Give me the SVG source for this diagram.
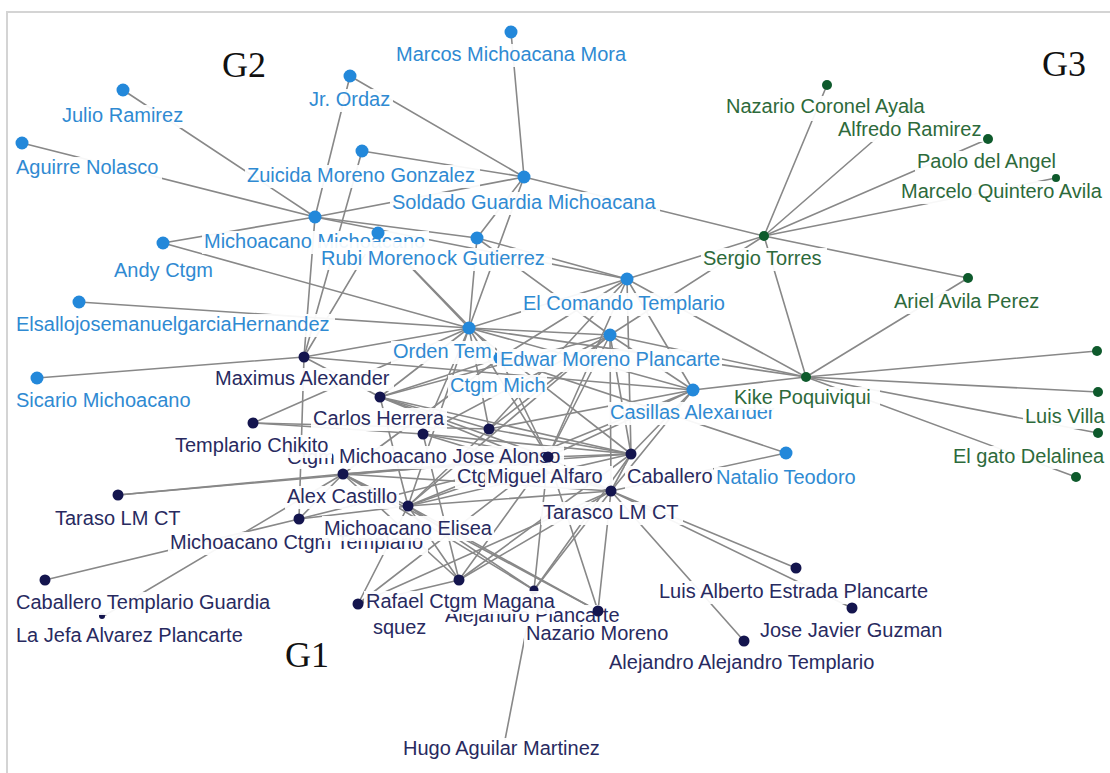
<svg xmlns="http://www.w3.org/2000/svg" width="1110" height="773" viewBox="0 0 1110 773">
<style>
.e{stroke:#888888;stroke-width:1.6;fill:none;stroke-linecap:round}
.lb{fill:#fff;opacity:0.93}
text{font-family:"Liberation Sans",Arial,sans-serif;font-size:20px}
.tb{fill:#2f8ad2}
.tn{fill:#282a5f}
.tg{fill:#2d6a3b}
.db{fill:#2388da}
.dn{fill:#14154e}
.dg{fill:#0e5a2c}
.gl{font-family:"Liberation Serif","Times New Roman",serif;font-size:36px;fill:#111}
</style>
<rect x="0" y="0" width="1110" height="773" fill="#fff"/>
<rect x="7" y="12" width="1115" height="775" fill="none" stroke="#d4d4d4" stroke-width="2"/>
<g id="connectors">
<line class="e" x1="123" y1="90" x2="315" y2="217"/>
<line class="e" x1="22" y1="143" x2="315" y2="217"/>
<line class="e" x1="163" y1="243" x2="315" y2="217"/>
<line class="e" x1="163" y1="243" x2="469" y2="328"/>
<line class="e" x1="362" y1="151" x2="524" y2="177"/>
<line class="e" x1="350" y1="76" x2="524" y2="177"/>
<line class="e" x1="350" y1="76" x2="315" y2="217"/>
<line class="e" x1="511" y1="32" x2="524" y2="177"/>
<line class="e" x1="315" y1="217" x2="524" y2="177"/>
<line class="e" x1="315" y1="217" x2="627" y2="279"/>
<line class="e" x1="315" y1="217" x2="477" y2="238"/>
<line class="e" x1="315" y1="217" x2="304" y2="357"/>
<line class="e" x1="378" y1="233" x2="304" y2="357"/>
<line class="e" x1="362" y1="151" x2="304" y2="357"/>
<line class="e" x1="79" y1="302" x2="469" y2="328"/>
<line class="e" x1="378" y1="233" x2="469" y2="328"/>
<line class="e" x1="378" y1="233" x2="500" y2="358"/>
<line class="e" x1="477" y1="238" x2="469" y2="328"/>
<line class="e" x1="524" y1="177" x2="469" y2="328"/>
<line class="e" x1="524" y1="177" x2="477" y2="238"/>
<line class="e" x1="477" y1="238" x2="627" y2="279"/>
<line class="e" x1="477" y1="238" x2="610" y2="335"/>
<line class="e" x1="469" y1="328" x2="627" y2="279"/>
<line class="e" x1="469" y1="328" x2="610" y2="335"/>
<line class="e" x1="469" y1="328" x2="693" y2="390"/>
<line class="e" x1="627" y1="279" x2="693" y2="390"/>
<line class="e" x1="610" y1="335" x2="693" y2="390"/>
<line class="e" x1="627" y1="279" x2="500" y2="358"/>
<line class="e" x1="524" y1="177" x2="764" y2="236"/>
<line class="e" x1="627" y1="279" x2="764" y2="236"/>
<line class="e" x1="610" y1="335" x2="764" y2="236"/>
<line class="e" x1="627" y1="279" x2="806" y2="377"/>
<line class="e" x1="764" y1="236" x2="806" y2="377"/>
<line class="e" x1="469" y1="328" x2="806" y2="377"/>
<line class="e" x1="693" y1="390" x2="806" y2="377"/>
<line class="e" x1="610" y1="335" x2="806" y2="377"/>
<line class="e" x1="764" y1="236" x2="827" y2="85"/>
<line class="e" x1="764" y1="236" x2="911" y2="108"/>
<line class="e" x1="764" y1="236" x2="988" y2="139"/>
<line class="e" x1="764" y1="236" x2="1056" y2="178"/>
<line class="e" x1="764" y1="236" x2="968" y2="278"/>
<line class="e" x1="806" y1="377" x2="968" y2="278"/>
<line class="e" x1="806" y1="377" x2="1097" y2="351"/>
<line class="e" x1="806" y1="377" x2="1098" y2="392"/>
<line class="e" x1="806" y1="377" x2="1098" y2="433"/>
<line class="e" x1="806" y1="377" x2="1076" y2="477"/>
<line class="e" x1="786" y1="453" x2="500" y2="358"/>
<line class="e" x1="786" y1="453" x2="611" y2="491"/>
<line class="e" x1="37" y1="378" x2="304" y2="357"/>
<line class="e" x1="253" y1="423" x2="469" y2="328"/>
<line class="e" x1="253" y1="423" x2="423" y2="434"/>
<line class="e" x1="253" y1="423" x2="489" y2="429"/>
<line class="e" x1="304" y1="357" x2="693" y2="390"/>
<line class="e" x1="304" y1="357" x2="380" y2="397"/>
<line class="e" x1="304" y1="357" x2="299" y2="519"/>
<line class="e" x1="304" y1="357" x2="469" y2="328"/>
<line class="e" x1="380" y1="397" x2="489" y2="429"/>
<line class="e" x1="380" y1="397" x2="548" y2="457"/>
<line class="e" x1="380" y1="397" x2="631" y2="454"/>
<line class="e" x1="380" y1="397" x2="611" y2="491"/>
<line class="e" x1="380" y1="397" x2="610" y2="335"/>
<line class="e" x1="380" y1="397" x2="469" y2="328"/>
<line class="e" x1="380" y1="397" x2="500" y2="358"/>
<line class="e" x1="489" y1="429" x2="469" y2="328"/>
<line class="e" x1="489" y1="429" x2="610" y2="335"/>
<line class="e" x1="489" y1="429" x2="627" y2="279"/>
<line class="e" x1="489" y1="429" x2="631" y2="454"/>
<line class="e" x1="489" y1="429" x2="693" y2="390"/>
<line class="e" x1="423" y1="434" x2="469" y2="328"/>
<line class="e" x1="423" y1="434" x2="610" y2="335"/>
<line class="e" x1="423" y1="434" x2="631" y2="454"/>
<line class="e" x1="423" y1="434" x2="548" y2="457"/>
<line class="e" x1="423" y1="434" x2="611" y2="491"/>
<line class="e" x1="343" y1="474" x2="548" y2="457"/>
<line class="e" x1="343" y1="474" x2="631" y2="454"/>
<line class="e" x1="343" y1="474" x2="611" y2="491"/>
<line class="e" x1="343" y1="474" x2="408" y2="506"/>
<line class="e" x1="343" y1="474" x2="118" y2="495"/>
<line class="e" x1="343" y1="474" x2="500" y2="358"/>
<line class="e" x1="343" y1="474" x2="102" y2="617"/>
<line class="e" x1="408" y1="506" x2="548" y2="457"/>
<line class="e" x1="408" y1="506" x2="631" y2="454"/>
<line class="e" x1="408" y1="506" x2="611" y2="491"/>
<line class="e" x1="408" y1="506" x2="489" y2="429"/>
<line class="e" x1="408" y1="506" x2="380" y2="397"/>
<line class="e" x1="408" y1="506" x2="469" y2="328"/>
<line class="e" x1="408" y1="506" x2="610" y2="335"/>
<line class="e" x1="408" y1="506" x2="693" y2="390"/>
<line class="e" x1="408" y1="506" x2="459" y2="580"/>
<line class="e" x1="408" y1="506" x2="534" y2="590"/>
<line class="e" x1="408" y1="506" x2="598" y2="611"/>
<line class="e" x1="408" y1="506" x2="358" y2="604"/>
<line class="e" x1="408" y1="506" x2="299" y2="519"/>
<line class="e" x1="299" y1="519" x2="343" y2="474"/>
<line class="e" x1="299" y1="519" x2="45" y2="580"/>
<line class="e" x1="299" y1="519" x2="548" y2="457"/>
<line class="e" x1="118" y1="495" x2="548" y2="457"/>
<line class="e" x1="358" y1="604" x2="459" y2="580"/>
<line class="e" x1="358" y1="604" x2="611" y2="491"/>
<line class="e" x1="358" y1="604" x2="548" y2="457"/>
<line class="e" x1="459" y1="580" x2="548" y2="457"/>
<line class="e" x1="459" y1="580" x2="611" y2="491"/>
<line class="e" x1="459" y1="580" x2="631" y2="454"/>
<line class="e" x1="459" y1="580" x2="343" y2="474"/>
<line class="e" x1="459" y1="580" x2="423" y2="434"/>
<line class="e" x1="534" y1="590" x2="611" y2="491"/>
<line class="e" x1="534" y1="590" x2="631" y2="454"/>
<line class="e" x1="534" y1="590" x2="343" y2="474"/>
<line class="e" x1="534" y1="590" x2="548" y2="457"/>
<line class="e" x1="534" y1="590" x2="505" y2="740"/>
<line class="e" x1="598" y1="611" x2="611" y2="491"/>
<line class="e" x1="598" y1="611" x2="548" y2="457"/>
<line class="e" x1="598" y1="611" x2="343" y2="474"/>
<line class="e" x1="611" y1="491" x2="796" y2="568"/>
<line class="e" x1="611" y1="491" x2="852" y2="608"/>
<line class="e" x1="611" y1="491" x2="744" y2="641"/>
<line class="e" x1="611" y1="491" x2="631" y2="454"/>
<line class="e" x1="611" y1="491" x2="548" y2="457"/>
<line class="e" x1="611" y1="491" x2="610" y2="335"/>
<line class="e" x1="631" y1="454" x2="693" y2="390"/>
<line class="e" x1="631" y1="454" x2="610" y2="335"/>
<line class="e" x1="631" y1="454" x2="627" y2="279"/>
<line class="e" x1="631" y1="454" x2="469" y2="328"/>
<line class="e" x1="631" y1="454" x2="548" y2="457"/>
<line class="e" x1="548" y1="457" x2="469" y2="328"/>
<line class="e" x1="548" y1="457" x2="610" y2="335"/>
<line class="e" x1="548" y1="457" x2="627" y2="279"/>
<line class="e" x1="548" y1="457" x2="500" y2="358"/>
<line class="e" x1="693" y1="390" x2="611" y2="491"/>
<line class="e" x1="693" y1="390" x2="548" y2="457"/>
</g>
<g id="group-labels">
<text class="gl" x="222" y="77">G2</text>
<text class="gl" x="1042" y="76">G3</text>
<text class="gl" x="285" y="667">G1</text>
</g>
<g id="n-marcos"><rect class="lb" x="394" y="44" width="235" height="23"/><text class="tb" x="396" y="61">Marcos Michoacana Mora</text><circle class="db" cx="511" cy="32" r="6.5"/></g>
<g id="n-jrordaz"><rect class="lb" x="307" y="89" width="86" height="23"/><text class="tb" x="309" y="106">Jr. Ordaz</text><circle class="db" cx="350" cy="76" r="6.5"/></g>
<g id="n-julio"><rect class="lb" x="60" y="105" width="126" height="23"/><text class="tb" x="62" y="122">Julio Ramirez</text><circle class="db" cx="123" cy="90" r="6.5"/></g>
<g id="n-aguirre"><rect class="lb" x="14" y="157" width="148" height="23"/><text class="tb" x="16" y="174">Aguirre Nolasco</text><circle class="db" cx="22" cy="143" r="6.5"/></g>
<g id="n-zuicida"><rect class="lb" x="245" y="165" width="235" height="23"/><text class="tb" x="247" y="182">Zuicida Moreno Gonzalez</text><circle class="db" cx="362" cy="151" r="6.5"/></g>
<g id="n-soldado"><rect class="lb" x="390" y="192" width="270" height="23"/><text class="tb" x="392" y="209">Soldado Guardia Michoacana</text><circle class="db" cx="524" cy="177" r="6.5"/></g>
<g id="n-mm"><rect class="lb" x="202" y="231" width="227" height="23"/><text class="tb" x="204" y="248">Michoacano Michoacano</text><circle class="db" cx="315" cy="217" r="6.5"/></g>
<g id="n-andy"><rect class="lb" x="112" y="260" width="102" height="23"/><text class="tb" x="114" y="277">Andy Ctgm</text><circle class="db" cx="163" cy="243" r="6.5"/></g>
<g id="n-rubi"><rect class="lb" x="319" y="242" width="115" height="28"/><text class="tb" x="321" y="265">Rubi Moreno</text><circle class="db" cx="378" cy="233" r="6.5"/></g>
<g id="n-gutierrez"><rect class="lb" x="435" y="248" width="117" height="23"/><text class="tb" x="437" y="265">ck Gutierrez</text><circle class="db" cx="477" cy="238" r="6.5"/></g>
<g id="n-comando"><rect class="lb" x="521" y="293" width="210" height="23"/><text class="tb" x="523" y="310">El Comando Templario</text><circle class="db" cx="627" cy="279" r="6.5"/></g>
<g id="n-elsallo"><rect class="lb" x="14" y="314" width="321" height="23"/><text class="tb" x="16" y="331">ElsallojosemanuelgarciaHernandez</text><circle class="db" cx="79" cy="302" r="6.5"/></g>
<g id="n-orden"><rect class="lb" x="391" y="341" width="104" height="23"/><text class="tb" x="393" y="358">Orden Tem</text><circle class="db" cx="469" cy="328" r="6.5"/></g>
<g id="n-ctgmmich"><circle class="db" cx="500" cy="358" r="6.5"/><rect class="lb" x="448" y="375" width="99" height="23"/><text class="tb" x="450" y="392">Ctgm Mich</text></g>
<g id="n-edwar"><rect class="lb" x="497" y="349" width="225" height="23"/><text class="tb" x="500" y="366">Edwar Moreno Plancarte</text><circle class="db" cx="610" cy="335" r="6.5"/></g>
<g id="n-sicario"><rect class="lb" x="14" y="390" width="181" height="23"/><text class="tb" x="16" y="407">Sicario Michoacano</text><circle class="db" cx="37" cy="378" r="6.5"/></g>
<g id="n-casillas"><rect class="lb" x="608" y="402" width="171" height="23"/><text class="tb" x="610" y="419">Casillas Alexander</text><circle class="db" cx="693" cy="390" r="6.5"/></g>
<g id="n-natalio"><rect class="lb" x="714" y="467" width="147" height="23"/><text class="tb" x="716" y="484">Natalio Teodoro</text><circle class="db" cx="786" cy="453" r="6.5"/></g>
<g id="n-alfredo"><circle class="dg" cx="911" cy="108" r="5"/><rect class="lb" x="836" y="119" width="150" height="23"/><text class="tg" x="838" y="136">Alfredo Ramirez</text></g>
<g id="n-nazario"><rect class="lb" x="724" y="96" width="205" height="25"/><text class="tg" x="726" y="113">Nazario Coronel Ayala</text><circle class="dg" cx="827" cy="85" r="5"/></g>
<g id="n-paolo"><rect class="lb" x="915" y="151" width="145" height="23"/><text class="tg" x="917" y="168">Paolo del Angel</text><circle class="dg" cx="988" cy="139" r="5"/></g>
<g id="n-marcelo"><rect class="lb" x="899" y="181" width="208" height="23"/><text class="tg" x="901" y="198">Marcelo Quintero Avila</text><circle class="dg" cx="1056" cy="178" r="4"/></g>
<g id="n-sergio"><rect class="lb" x="701" y="248" width="126" height="23"/><text class="tg" x="703" y="265">Sergio Torres</text><circle class="dg" cx="764" cy="236" r="5"/></g>
<g id="n-ariel"><rect class="lb" x="892" y="291" width="151" height="23"/><text class="tg" x="894" y="308">Ariel Avila Perez</text><circle class="dg" cx="968" cy="278" r="5"/></g>
<g id="n-kike"><rect class="lb" x="732" y="387" width="148" height="23"/><text class="tg" x="734" y="404">Kike Poquiviqui</text><circle class="dg" cx="806" cy="377" r="5"/></g>
<g id="n-g1"><circle class="dg" cx="1097" cy="351" r="5"/></g>
<g id="n-luisvilla"><rect class="lb" x="1023" y="406" width="85" height="23"/><text class="tg" x="1025" y="423">Luis Villa</text><circle class="dg" cx="1098" cy="392" r="5"/></g>
<g id="n-elgato"><rect class="lb" x="951" y="446" width="157" height="23"/><text class="tg" x="953" y="463">El gato Delalinea</text><circle class="dg" cx="1098" cy="433" r="5"/></g>
<g id="n-g2"><circle class="dg" cx="1076" cy="477" r="5"/></g>
<g id="n-maximus"><rect class="lb" x="213" y="368" width="181" height="23"/><text class="tn" x="215" y="385">Maximus Alexander</text><circle class="dn" cx="304" cy="357" r="5.5"/></g>
<g id="n-carlos"><rect class="lb" x="311" y="408" width="136" height="23"/><text class="tn" x="313" y="425">Carlos Herrera</text><circle class="dn" cx="380" cy="397" r="5.5"/></g>
<g id="n-ctgm"><rect class="lb" x="285" y="447" width="52" height="22"/><text class="tn" x="287" y="464">Ctgm</text></g>
<g id="n-templario"><rect class="lb" x="173" y="435" width="159" height="23"/><text class="tn" x="175" y="452">Templario Chikito</text><circle class="dn" cx="253" cy="423" r="5.5"/></g>
<g id="n-jose"><rect class="lb" x="337" y="446" width="227" height="23"/><text class="tn" x="339" y="463">Michoacano Jose Alonso</text><circle class="dn" cx="423" cy="434" r="5.5"/></g>
<g id="n-489"><circle class="dn" cx="489" cy="429" r="5.5"/></g>
<g id="n-ctg"><rect class="lb" x="455" y="466" width="34" height="23"/><text class="tn" x="457" y="483">Ctg</text></g>
<g id="n-miguel"><rect class="lb" x="485" y="466" width="128" height="23"/><text class="tn" x="487" y="483">Miguel Alfaro</text><circle class="dn" cx="548" cy="457" r="5.5"/></g>
<g id="n-caballero-c"><rect class="lb" x="625" y="466" width="88" height="23"/><text class="tn" x="627" y="483">Caballero</text><circle class="dn" cx="631" cy="454" r="5.5"/></g>
<g id="n-alex"><rect class="lb" x="285" y="486" width="114" height="23"/><text class="tn" x="287" y="503">Alex Castillo</text><circle class="dn" cx="343" cy="474" r="5.5"/></g>
<g id="n-mct"><rect class="lb" x="168" y="532" width="260" height="23"/><text class="tn" x="170" y="549">Michoacano Ctgm Templario</text><circle class="dn" cx="299" cy="519" r="5.5"/></g>
<g id="n-elisea"><rect class="lb" x="322" y="516" width="172" height="25"/><text class="tn" x="324" y="535">Michoacano Elisea</text><circle class="dn" cx="408" cy="506" r="5.5"/></g>
<g id="n-tarasco"><rect class="lb" x="541" y="502" width="142" height="23"/><text class="tn" x="543" y="519">Tarasco LM CT</text><circle class="dn" cx="611" cy="491" r="5.5"/></g>
<g id="n-taraso"><rect class="lb" x="53" y="508" width="131" height="23"/><text class="tn" x="55" y="525">Taraso LM CT</text><circle class="dn" cx="118" cy="495" r="5.5"/></g>
<g id="n-lajefa"><circle class="dn" cx="102" cy="616" r="3"/><rect class="lb" x="14" y="625" width="233" height="23"/><text class="tn" x="16" y="642">La Jefa Alvarez Plancarte</text></g>
<g id="n-caballero"><rect class="lb" x="14" y="592" width="263" height="23"/><text class="tn" x="16" y="609">Caballero Templario Guardia</text><circle class="dn" cx="45" cy="580" r="5.5"/></g>
<g id="n-aplancarte"><rect class="lb" x="443" y="605" width="179" height="23"/><text class="tn" x="445" y="622">Alejandro Plancarte</text><circle class="dn" cx="534" cy="590" r="4.5"/></g>
<g id="n-rafael"><rect class="lb" x="364" y="591" width="191" height="23"/><text class="tn" x="366" y="608">Rafael Ctgm Magana</text><circle class="dn" cx="358" cy="604" r="5.5"/></g>
<g id="n-squez"><text class="tn" x="373" y="634">squez</text></g>
<g id="n-459"><circle class="dn" cx="459" cy="580" r="5.5"/></g>
<g id="n-nazm"><rect class="lb" x="524" y="624" width="146" height="23"/><text class="tn" x="526" y="640">Nazario Moreno</text><circle class="dn" cx="598" cy="611" r="5.5"/></g>
<g id="n-luisalberto"><rect class="lb" x="657" y="581" width="276" height="23"/><text class="tn" x="659" y="598">Luis Alberto Estrada Plancarte</text><circle class="dn" cx="796" cy="568" r="5.5"/></g>
<g id="n-josejavier"><rect class="lb" x="758" y="620" width="187" height="23"/><text class="tn" x="760" y="637">Jose Javier Guzman</text><circle class="dn" cx="852" cy="608" r="5.5"/></g>
<g id="n-aat"><rect class="lb" x="607" y="652" width="274" height="23"/><text class="tn" x="609" y="669">Alejandro Alejandro Templario</text><circle class="dn" cx="744" cy="641" r="5.5"/></g>
<g id="n-hugo"><rect class="lb" x="401" y="738" width="204" height="23"/><text class="tn" x="403" y="755">Hugo Aguilar Martinez</text></g>
</svg>
